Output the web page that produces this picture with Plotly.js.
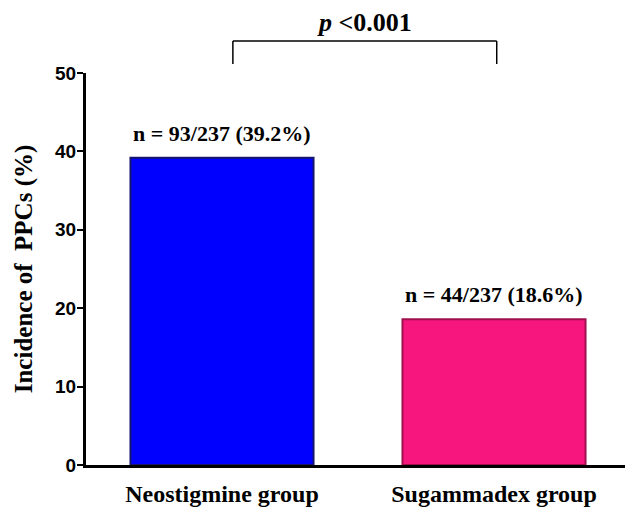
<!DOCTYPE html>
<html>
<head>
<meta charset="utf-8">
<script src="https://cdn.plot.ly/plotly-3.0.1.min.js"></script>
<style>html,body{margin:0;padding:0;background:#fff;}#chart{width:625px;height:507px;}</style>
</head>
<body>
<div id="chart"></div>
<script>
var categories = ["Neostigmine group", "Sugammadex group"];
var incidence = [39.2, 18.6];
var barLabels = ["n = 93/237 (39.2%)", "n = 44/237 (18.6%)"];
var yTicks = [0, 10, 20, 30, 40, 50];
var pText = "<i>p</i> <0.001";

var serif = "Liberation Serif, Times New Roman, serif";
var sans = "Liberation Sans, Arial, sans-serif";

var trace = {
  type: "bar",
  x: [0, 1],
  y: incidence,
  marker: {
    color: ["#0000ff", "#f7157e"],
    line: {color: ["#16166e", "#a0104e"], width: 2}
  },
  width: 0.673,
  hoverinfo: "none"
};

var annotations = barLabels.map(function (t, i) {
  return {
    x: i, y: incidence[i], xref: "x", yref: "y",
    text: "<b>" + t + "</b>", showarrow: false,
    yanchor: "bottom", yshift: 10,
    font: {family: serif, size: 22, color: "#000"}
  };
});
annotations.push({
  x: 0.525, y: 1.083, xref: "x", yref: "paper",
  text: "<b>" + pText + "</b>", showarrow: false,
  yanchor: "bottom", yshift: 1,
  font: {family: serif, size: 26, color: "#000"}
});

var shapes = [
  {type: "line", xref: "x", yref: "paper", x0: 0.04, x1: 1.01, y0: 1.0816, y1: 1.0816, line: {color: "#000", width: 1.5}},
  {type: "line", xref: "x", yref: "paper", x0: 0.04, x1: 0.04, y0: 1.0816, y1: 1.023, line: {color: "#000", width: 1.5}},
  {type: "line", xref: "x", yref: "paper", x0: 1.01, x1: 1.01, y0: 1.0816, y1: 1.023, line: {color: "#000", width: 1.5}}
];

var layout = {
  width: 625, height: 507,
  margin: {l: 86, r: 0, t: 73, b: 42, pad: 0},
  paper_bgcolor: "#fff", plot_bgcolor: "#fff",
  showlegend: false,
  xaxis: {
    range: [-0.5, 1.4816],
    tickmode: "array", tickvals: [0, 1],
    ticktext: categories.map(function (c) { return "<b>" + c + "</b>"; }),
    ticks: "outside", ticklen: 5, tickcolor: "rgba(0,0,0,0)",
    tickfont: {family: serif, size: 24, color: "#000"},
    showline: true, linecolor: "#000", linewidth: 3,
    showgrid: false, zeroline: false, fixedrange: true
  },
  yaxis: {
    range: [0, 50],
    tickmode: "array", tickvals: yTicks,
    ticktext: yTicks.map(function (v) { return "<b>" + v + "</b>"; }),
    ticks: "outside", ticklen: 6, tickwidth: 2, tickcolor: "#000",
    ticklabelstandoff: -3,
    tickfont: {family: sans, size: 19, color: "#000"},
    showline: true, linecolor: "#000", linewidth: 3,
    showgrid: false, zeroline: false, fixedrange: true,
    title: {text: "<b>Incidence of  PPCs (%)</b>", font: {family: serif, size: 25, color: "#000"}, standoff: 16}
  },
  annotations: annotations,
  shapes: shapes
};

Plotly.newPlot("chart", [trace], layout, {displayModeBar: false, staticPlot: true});
</script>
</body>
</html>
